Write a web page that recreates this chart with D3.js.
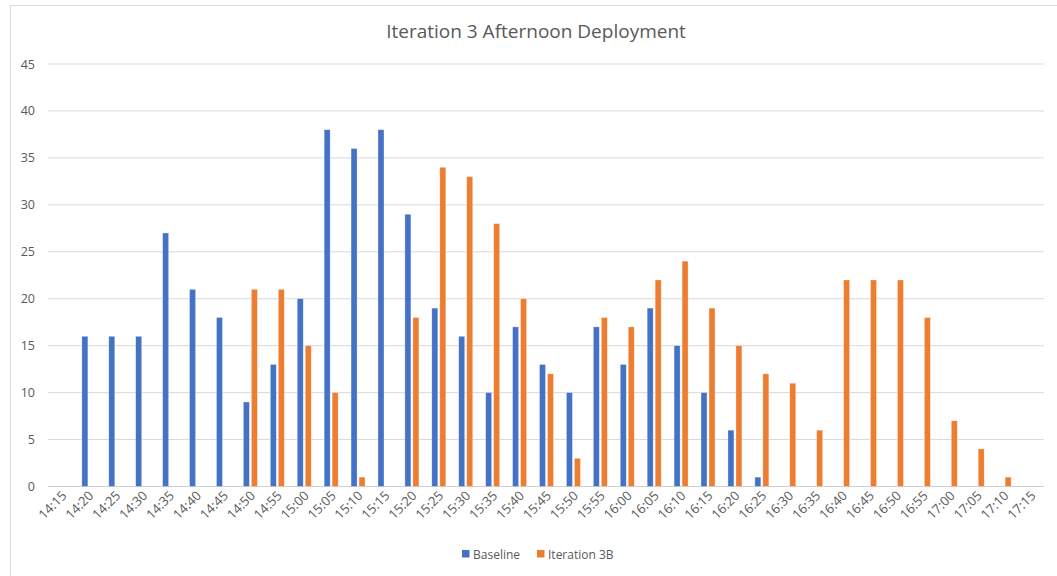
<!DOCTYPE html>
<html><head><meta charset="utf-8">
<script src="https://cdn.jsdelivr.net/npm/d3@7"></script>
<style>body{margin:0;background:#fff;}svg{display:block;font-family:"Open Sans",sans-serif;}</style>
</head><body><svg id="c" width="1057" height="576"></svg>
<script>
const categories = ["14:15","14:20","14:25","14:30","14:35","14:40","14:45","14:50","14:55","15:00","15:05","15:10","15:15","15:20","15:25","15:30","15:35","15:40","15:45","15:50","15:55","16:00","16:05","16:10","16:15","16:20","16:25","16:30","16:35","16:40","16:45","16:50","16:55","17:00","17:05","17:10","17:15"];
const baseline = [null,16,16,16,27,21,18,9,13,20,38,36,38,29,19,16,10,17,13,10,17,13,19,15,10,6,1,null,null,null,null,null,null,null,null,null,null];
const iteration3B = [null,null,null,null,null,null,null,21,21,15,10,1,null,18,34,33,28,20,12,3,18,17,22,24,19,15,12,11,6,22,22,22,18,7,4,1,null];
const seriesNames = ["Baseline","Iteration 3B"];
const colors = ["#4472C4","#ED7D31"];
const yTicks = [0,5,10,15,20,25,30,35,40,45];

const svg = d3.select("#c");
svg.append("rect").attr("x",10.5).attr("y",5.5).attr("width",1060).attr("height",600)
  .attr("fill","#fff").attr("stroke","#d9d9d9");

const L=48, R=1044, T=64, B=486.5;
const x0 = d3.scaleBand().domain(categories).range([L,R]).padding(0);
const x1 = d3.scaleBand().domain(seriesNames).range([-6.5,7.5]).paddingInner(0.25);
const y = d3.scaleLinear().domain([0,45]).range([B,T]);

svg.append("g").selectAll("line").data(yTicks).join("line")
  .attr("x1",L).attr("x2",R).attr("y1",d=>y(d)).attr("y2",d=>y(d))
  .attr("stroke",d=>d===0?"#d0d0d0":"#d9d9d9").attr("stroke-width",1);

const yAxis = d3.axisLeft(y).tickValues(yTicks).tickSize(0).tickPadding(0);
const gy = svg.append("g").attr("transform",`translate(35,0)`).call(yAxis);
gy.select(".domain").remove();
gy.selectAll("text").attr("font-size",12.5).attr("fill","#595959").attr("font-family","Open Sans, sans-serif");

const data = [baseline, iteration3B];
data.forEach((arr,si)=>{
  svg.append("g").selectAll("rect").data(categories.map((c,i)=>({c,v:arr[i]})).filter(d=>d.v!=null))
    .join("rect")
    .attr("x",d=>x0(d.c)+x0.bandwidth()/2+x1(seriesNames[si]))
    .attr("width",x1.bandwidth())
    .attr("y",d=>y(d.v))
    .attr("height",d=>y(0)-y(d.v))
    .attr("fill",colors[si])
    .attr("stroke","rgba(255,255,255,0.5)").attr("stroke-width",0.6);
});

const xAxis = d3.axisBottom(x0).tickSize(0).tickPadding(0);
const gx = svg.append("g").attr("transform",`translate(0,${B})`).call(xAxis);
gx.select(".domain").remove();
gx.selectAll("text")
  .attr("font-size",13).attr("fill","#595959").attr("font-family","Open Sans, sans-serif")
  .attr("text-anchor","end").attr("dy",null).attr("y",0).attr("x",0)
  .attr("transform","translate(6,10) rotate(-45)");

svg.append("text").attr("x",536).attr("y",38).attr("text-anchor","middle")
  .attr("font-size",19).attr("fill","#595959").text("Iteration 3 Afternoon Deployment");

const lg = svg.append("g");
const legX = [462,537];
seriesNames.forEach((n,i)=>{
  lg.append("rect").attr("x",legX[i]).attr("y",550).attr("width",7.5).attr("height",7.5).attr("fill",colors[i]);
  lg.append("text").attr("x",legX[i]+11).attr("y",558.5).attr("font-size",12).attr("fill","#595959").text(n);
});
</script></body></html>
